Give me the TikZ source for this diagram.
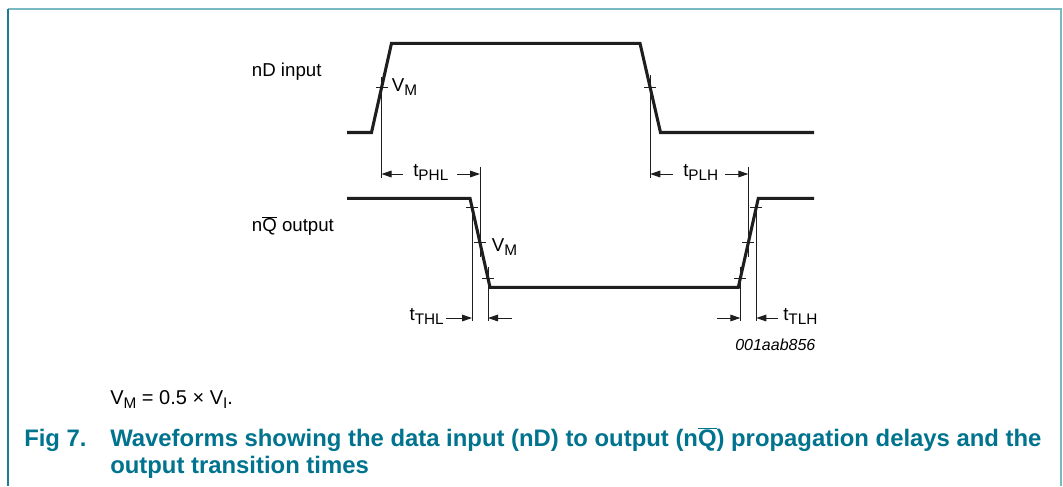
\documentclass[tikz,border=0pt]{standalone}
\usepackage{fontspec}
\setmainfont{Liberation Sans}
\usetikzlibrary{arrows.meta}
\definecolor{captc}{RGB}{0,115,143}
\definecolor{frameL}{RGB}{30,125,148}
\definecolor{frameT}{RGB}{122,184,196}
\definecolor{wave}{RGB}{30,30,30}
\newcommand\lowsub[1]{\raisebox{-3pt}{\fontsize{11.5pt}{12pt}\selectfont #1}}
\newcommand\barQ{\ensuremath{\overline{\mbox{Q}}}}
\tikzset{
  wavel/.style={draw=wave,line width=2.3pt,line join=miter},
  refl/.style={draw=wave,line width=0.75pt},
  tickl/.style={draw=wave,line width=0.8pt},
  dim/.style={draw=wave,line width=0.75pt,-{Triangle[length=7.5pt,width=5pt]}},
  lbl/.style={inner sep=0pt,font=\fontsize{14pt}{16pt}\selectfont,text=black},
  capt/.style={inner sep=0pt,font=\fontsize{17.9pt}{21pt}\selectfont\bfseries,text=captc}
}
\begin{document}
\begin{tikzpicture}[x=0.75pt,y=-0.75pt]
\useasboundingbox (0,0) rectangle (1063,486);
\fill[white] (0,0) rectangle (1063,486);
% frame
\coordinate (fTL) at (8,9);
\coordinate (fBL) at (8,486);
\coordinate (fTR) at (1061,9);
\coordinate (fBR) at (1061,486);
\draw[frameT,line width=1.6pt] (fTL) -- (fTR) -- (fBR);
\draw[frameL,line width=1.6pt] (fTL) -- (fBL);

% input waveform
\coordinate (i0) at (347,132.5);
\coordinate (i1) at (371.5,132.5);
\coordinate (i2) at (391.5,43.3);
\coordinate (i3) at (640,43.3);
\coordinate (i4) at (660.5,132.5);
\coordinate (i5) at (814,132.5);
\draw[wavel] (i0) -- (i1) -- (i2) -- (i3) -- (i4) -- (i5);

% output waveform
\coordinate (o0) at (347,198.3);
\coordinate (o1) at (470,198.3);
\coordinate (o2) at (490,287.3);
\coordinate (o3) at (738.3,287.3);
\coordinate (o4) at (758.3,198.3);
\coordinate (o5) at (814,198.3);
\draw[wavel] (o0) -- (o1) -- (o2) -- (o3) -- (o4) -- (o5);

% ticks
\foreach \x/\y in {381.5/87.9, 650.25/87.9, 472/207.2, 480/242.8, 488/278.4, 740.3/278.4, 748.3/242.8, 756.3/207.2}
  \draw[tickl] (\x-6,\y) -- (\x+6,\y);

% reference lines
\coordinate (rA1) at (381.5,77);   \coordinate (rA2) at (381.5,178);
\coordinate (rB1) at (650.25,75);  \coordinate (rB2) at (650.25,178);
\coordinate (rC1) at (480,166.7);  \coordinate (rC2) at (480,256.7);
\coordinate (rD1) at (748.3,166.7);\coordinate (rD2) at (748.3,256.7);
\coordinate (rE1) at (472,207);    \coordinate (rE2) at (472,321);
\coordinate (rF1) at (488,266.7);  \coordinate (rF2) at (488,321);
\coordinate (rG1) at (740.3,266.7);\coordinate (rG2) at (740.3,321);
\coordinate (rH1) at (756.3,207);  \coordinate (rH2) at (756.3,321);
\foreach \n in {A,B,C,D,E,F,G,H} \draw[refl] (r\n1) -- (r\n2);

% dimension arrows
\coordinate (aPHLl) at (403,174);  \coordinate (aPHLle) at (381.5,174);
\coordinate (aPHLr) at (457,174);  \coordinate (aPHLre) at (480,174);
\coordinate (aPLHl) at (673,174);  \coordinate (aPLHle) at (650.25,174);
\coordinate (aPLHr) at (725,174);  \coordinate (aPLHre) at (748.3,174);
\coordinate (aTHLl) at (446,318);  \coordinate (aTHLle) at (472,318);
\coordinate (aTHLr) at (512,318);  \coordinate (aTHLre) at (488,318);
\coordinate (aTLHl) at (717,318);  \coordinate (aTLHle) at (740.3,318);
\coordinate (aTLHr) at (778,318);  \coordinate (aTLHre) at (756.3,318);
\draw[dim] (aPHLl) -- (aPHLle);
\draw[dim] (aPHLr) -- (aPHLre);
\draw[dim] (aPLHl) -- (aPLHle);
\draw[dim] (aPLHr) -- (aPLHre);
\draw[dim] (aTHLl) -- (aTHLle);
\draw[dim] (aTHLr) -- (aTHLre);
\draw[dim] (aTLHl) -- (aTLHle);
\draw[dim] (aTLHr) -- (aTLHre);

% labels
\node[lbl,anchor=base west] (lin) at (251.7,76) {nD input};
\node[lbl,anchor=base west] (lout) at (251.7,231.7) {n\barQ{} output};
\node[lbl,anchor=base west] (vm1) at (391.7,91.7) {V\lowsub{M}};
\node[lbl,anchor=base west] (vm2) at (491.7,251.7) {V\lowsub{M}};
\node[lbl,anchor=base west] (tphl) at (413,176.5) {t\lowsub{PHL}};
\node[lbl,anchor=base west] (tplh) at (683,176.5) {t\lowsub{PLH}};
\node[lbl,anchor=base east] (tthl) at (444,320) {t\lowsub{THL}};
\node[lbl,anchor=base west] (ttlh) at (783,320) {t\lowsub{TLH}};
\node[inner sep=0pt,anchor=base west,font=\fontsize{12pt}{14pt}\selectfont\itshape] (code) at (735,350.7) {001aab856};
\node[inner sep=0pt,anchor=base west,font=\fontsize{15pt}{17pt}\selectfont] (form) at (110,404) {V\lowsub{M}~=~0.5~×~V\lowsub{I}.};
\node[capt,anchor=base west] (fig) at (24,446.7) {Fig 7.};
\node[capt,anchor=base west] (cap1) at (110,446.7) {Waveforms showing the data input (nD) to output (n\barQ) propagation delays and the};
\node[capt,anchor=base west] (cap2) at (110,473.3) {output transition times};
\end{tikzpicture}
\end{document}
